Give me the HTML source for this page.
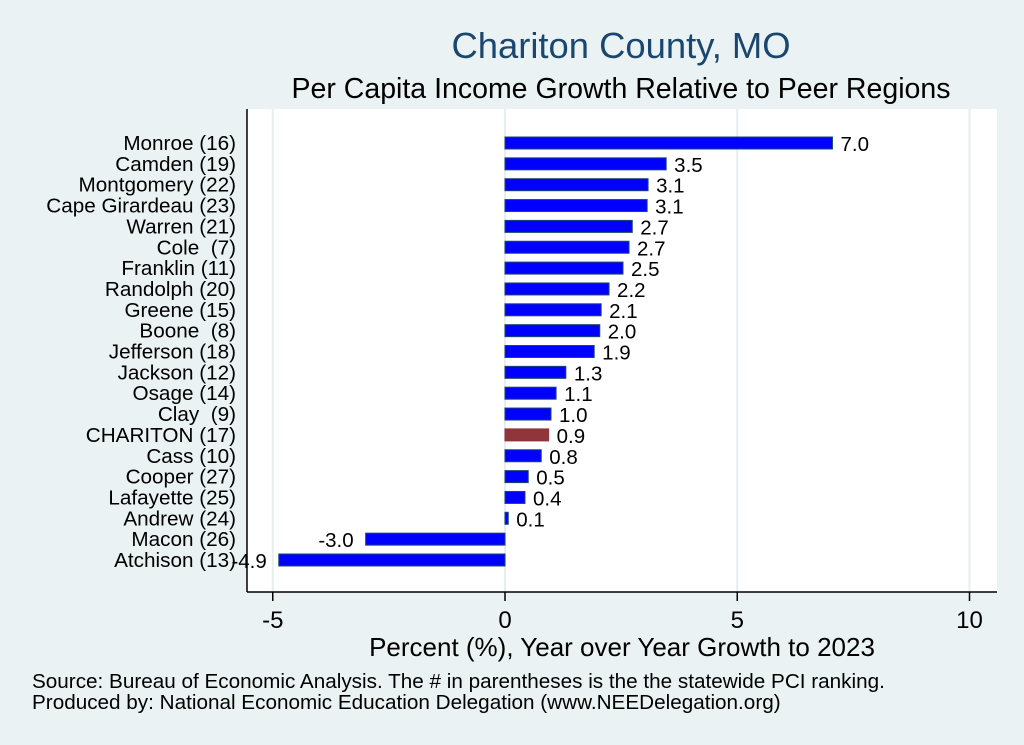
<!DOCTYPE html>
<html><head><meta charset="utf-8"><style>
body{margin:0;background:#eaf2f3;}
svg{display:block;font-family:"Liberation Sans",Arial,sans-serif;}
text{white-space:pre;}
</style></head><body>
<svg width="1024" height="745" viewBox="0 0 1024 745">
<rect x="0" y="0" width="1024" height="745" fill="#eaf2f3"/>
<text x="621" y="58" font-size="36.4" fill="#1a476f" text-anchor="middle">Chariton County, MO</text>
<text x="621" y="98" font-size="28.5" fill="#000" text-anchor="middle">Per Capita Income Growth Relative to Peer Regions</text>
<rect x="247" y="109" width="750" height="483" fill="#fff"/>
<g id="grid"></g>
<g id="bars"></g>
<line x1="247" y1="109" x2="247" y2="592" stroke="#000" stroke-width="1.5"/>
<line x1="247" y1="592" x2="997" y2="592" stroke="#000" stroke-width="1.5"/>
<g id="xticks"></g>
<text x="622" y="656" font-size="26" text-anchor="middle">Percent (%), Year over Year Growth to 2023</text>
<text x="32" y="688" font-size="20.7">Source: Bureau of Economic Analysis. The # in parentheses is the the statewide PCI ranking.</text>
<text x="32" y="709" font-size="20.7">Produced by: National Economic Education Delegation (www.NEEDelegation.org)</text>
</svg>
<script>
const categories=["Monroe (16)","Camden (19)","Montgomery (22)","Cape Girardeau (23)","Warren (21)","Cole  (7)","Franklin (11)","Randolph (20)","Greene (15)","Boone  (8)","Jefferson (18)","Jackson (12)","Osage (14)","Clay  (9)","CHARITON (17)","Cass (10)","Cooper (27)","Lafayette (25)","Andrew (24)","Macon (26)","Atchison (13)"];
const values=[7.05,3.47,3.08,3.06,2.74,2.67,2.54,2.24,2.07,2.04,1.92,1.31,1.1,0.99,0.94,0.78,0.5,0.43,0.07,-3.0,-4.87];
const highlight="CHARITON (17)";
const xTicks=[-5,0,5,10];
const NS="http://www.w3.org/2000/svg";
function xs(v){return 505+v*46.45;}
function ys(i){return 143+i*20.85;}
function mk(tag,attrs,parent){const e=document.createElementNS(NS,tag);for(const k in attrs)e.setAttribute(k,attrs[k]);parent.appendChild(e);return e;}
const grid=document.getElementById('grid'),bars=document.getElementById('bars'),xt=document.getElementById('xticks');
xTicks.forEach(t=>{
  const g=mk('line',{x1:xs(t),x2:xs(t),y1:109,y2:592,stroke:'#e6eef0','stroke-width':2},grid);
  
  
  const tk=mk('line',{x1:xs(t),x2:xs(t),y1:592,y2:601,stroke:'#000','stroke-width':1.5},xt);
  
  
  const tl=mk('text',{x:xs(t),y:628,'font-size':24,'text-anchor':'middle'},xt);
  tl.textContent=String(t);
  
  
});
categories.forEach((c,i)=>{
  const v=values[i],y=ys(i);
  const x0=Math.min(xs(0),xs(v)),w=Math.abs(xs(v)-xs(0));
  const hl=c===highlight;
  const r=mk('rect',{x:x0,y:y-6,width:Math.max(w,1.5),height:12,fill:hl?'#90353b':'#0000ff',stroke:hl?'#90353b':'#1a476f','stroke-width':1},bars);
  
  
  const lab=mk('text',{x:236,y:y+7,'font-size':20.7,'text-anchor':'end'},bars);
  lab.textContent=c;
  
  
  const vl=mk('text',{x:v>=0?xs(v)+8:xs(v)-12,y:y+8,'font-size':20.5,'text-anchor':v>=0?'start':'end'},bars);
  vl.textContent=v.toFixed(1);
  
  
});
</script>
</body></html>
